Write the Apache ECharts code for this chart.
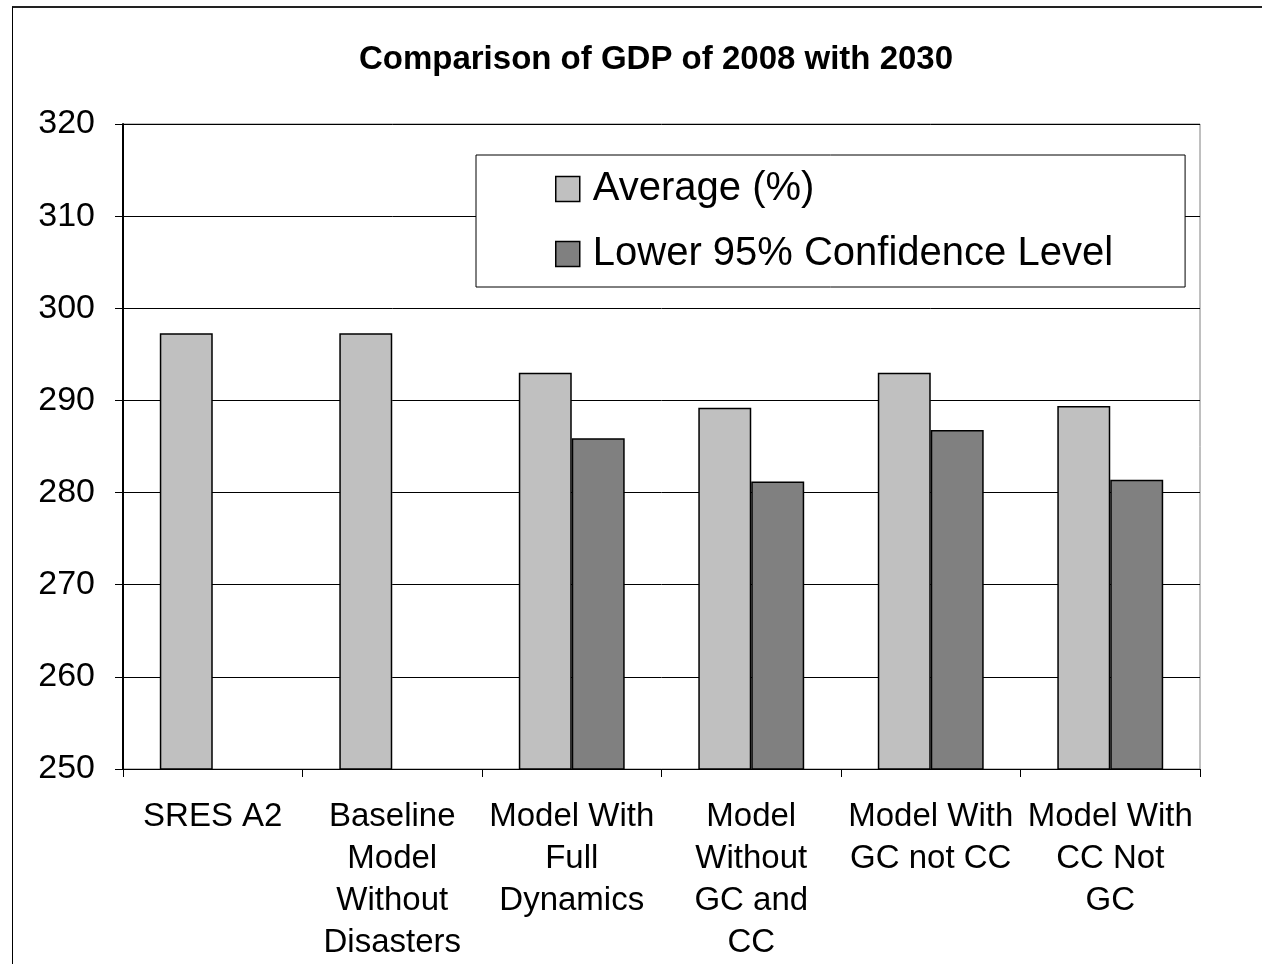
<!DOCTYPE html>
<html>
<head>
<meta charset="utf-8">
<script src="https://cdn.jsdelivr.net/npm/echarts@6/dist/echarts.min.js"></script>
<style>
html,body{margin:0;padding:0;background:#fff;}
#frame{position:absolute;left:12px;top:6px;width:1270px;height:980px;border-left:1px solid #000;border-top:2px solid #222;box-sizing:border-box;}
#chart{position:absolute;left:0;top:0;width:1262px;height:964px;}
</style>
</head>
<body>
<div id="frame"></div>
<div id="chart"></div>
<script>
const categories = [
  "SRES A2",
  "Baseline\nModel\nWithout\nDisasters",
  "Model With\nFull\nDynamics",
  "Model\nWithout\nGC and\nCC",
  "Model With\nGC not CC",
  "Model With\nCC Not\nGC"
];
const averageValues = [297.3, 297.3, 293.0, 289.2, 293.0, 289.4];
const lowerValues = [null, null, 285.9, 281.2, 286.8, 281.4];
const yTicks = [250, 260, 270, 280, 290, 300, 310, 320];

const font = "'Liberation Sans', Arial, sans-serif";
const chart = echarts.init(document.getElementById('chart'));
chart.setOption({
  backgroundColor: 'transparent',
  animation: false,
  title: {
    text: 'Comparison of GDP of 2008 with 2030',
    left: 651,
    textAlign: 'center',
    top: 38,
    textStyle: {fontFamily: font, fontSize: 33, fontWeight: 'bold', color: '#000'}
  },
  legend: {
    orient: 'vertical',
    left: 476,
    top: 155,
    backgroundColor: '#fff',
    borderColor: '#000',
    borderWidth: 1,
    padding: [14, 72, 13, 79],
    itemWidth: 24,
    itemHeight: 25,
    itemGap: 25,
    icon: 'rect',
    itemStyle: {borderColor: '#000', borderWidth: 1.5},
    textStyle: {fontFamily: font, fontSize: 40, lineHeight: 40, color: '#000', padding: [0, 0, 0, 8]},
    data: ['Average (%)', 'Lower 95% Confidence Level']
  },
  grid: {left: 123, right: 62, top: 124, bottom: 195, show: true, borderColor: '#808080', borderWidth: 1},
  xAxis: {
    type: 'category',
    data: categories,
    axisLine: {lineStyle: {color: '#000', width: 1}},
    axisTick: {show: true, length: 8, lineStyle: {color: '#000'}},
    axisLabel: {fontFamily: font, fontSize: 33, color: '#000', lineHeight: 42, margin: 27, interval: 0}
  },
  yAxis: {
    type: 'value',
    min: yTicks[0],
    max: yTicks[yTicks.length - 1],
    interval: 10,
    axisLine: {show: true, lineStyle: {color: '#000', width: 2}},
    axisTick: {show: true, length: 8, lineStyle: {color: '#000'}},
    axisLabel: {fontFamily: font, fontSize: 34, color: '#000', margin: 28, padding: [6, 0, 0, 0]},
    splitLine: {lineStyle: {color: '#000', width: 1}}
  },
  series: [
    {
      name: 'Average (%)',
      type: 'bar',
      data: averageValues,
      barGap: '0%',
      barCategoryGap: '41%',
      itemStyle: {color: '#C0C0C0', borderColor: '#000', borderWidth: 1.5}
    },
    {
      name: 'Lower 95% Confidence Level',
      type: 'bar',
      data: lowerValues,
      itemStyle: {color: '#808080', borderColor: '#000', borderWidth: 1.5}
    }
  ]
});
</script>
</body>
</html>
